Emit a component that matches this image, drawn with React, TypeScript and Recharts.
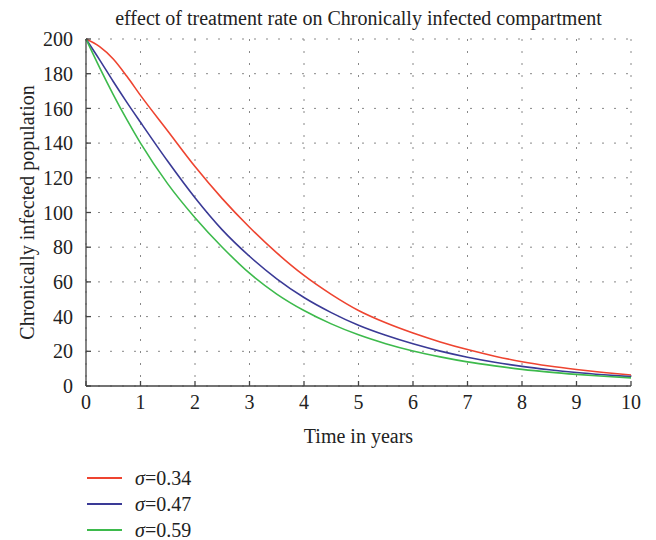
import React from 'react';
import { LineChart, Line, XAxis, YAxis, CartesianGrid, Label } from 'recharts';

const years = [0, 0.25, 0.5, 0.75, 1, 1.5, 2, 2.5, 3, 3.5, 4, 4.5, 5, 5.5, 6, 6.5, 7, 7.5, 8, 8.5, 9, 9.5, 10];
const sigma034 = [200, 195.6, 188.5, 178.5, 167.5, 147, 126.5, 108, 91.5, 76.7, 63.7, 52.8, 43.5, 36.4, 30.5, 25.4, 21, 17.2, 14, 11.5, 9.5, 7.8, 6.3];
const sigma047 = [200, 188, 175.5, 163.5, 152, 129.5, 108.5, 90, 74.8, 61.8, 51, 42.3, 35, 29.2, 24.3, 20.1, 16.6, 13.7, 11.3, 9.4, 7.8, 6.5, 5.4];
const sigma059 = [200, 183.5, 168, 153.5, 140, 116.5, 97, 80, 65, 53, 43.5, 35.8, 29.5, 24.4, 20.2, 16.8, 13.9, 11.6, 9.6, 8, 6.7, 5.6, 4.7];

const seriesNames = ['=0.34', '=0.47', '=0.59'];
const seriesColors = ['#ee4430', '#3a3a96', '#3dba4c'];
const xTicks = [0, 1, 2, 3, 4, 5, 6, 7, 8, 9, 10];
const yTicks = [0, 20, 40, 60, 80, 100, 120, 140, 160, 180, 200];
const title = 'effect of treatment rate on Chronically infected compartment';
const xLabel = 'Time in years';
const yLabel = 'Chronically infected population';

const data = years.map((t, i) => ({ t, s1: sigma034[i], s2: sigma047[i], s3: sigma059[i] }));
const keys = ['s1', 's2', 's3'];

const FONT = '"Liberation Serif", "Times New Roman", serif';
const tickStyle = { fontFamily: FONT, fontSize: 20, fill: '#222' };
const axisColor = '#444';

export default function App() {
  return (
    <div style={{ position: 'absolute', left: 0, top: 0, width: 656, height: 540, background: '#fff', fontFamily: FONT }}>
      <div style={{ position: 'absolute', left: 86, top: 7, width: 545, textAlign: 'center', fontSize: 20, lineHeight: '22px', color: '#222', whiteSpace: 'nowrap' }}>
        {title}
      </div>
      <LineChart width={656} height={540} data={data} margin={{ top: 39, right: 25, bottom: 94, left: 10 }}>
        <CartesianGrid stroke="#888" strokeDasharray="2 10" />
        <XAxis
          dataKey="t"
          type="number"
          domain={[0, 10]}
          ticks={xTicks}
          height={60}
          tickSize={-5}
          tickMargin={14}
          tick={tickStyle}
          stroke={axisColor}
          strokeWidth={1.3}
        >
          <Label value={xLabel} position="insideBottom" offset={3} style={{ fontFamily: FONT, fontSize: 20, fill: '#222' }} />
        </XAxis>
        <XAxis
          xAxisId="top"
          orientation="top"
          dataKey="t"
          type="number"
          domain={[0, 10]}
          ticks={xTicks}
          height={0}
          tickSize={-5}
          tick={() => <g />}
          stroke={axisColor}
          strokeWidth={1.3}
        />
        <YAxis
          type="number"
          domain={[0, 200]}
          ticks={yTicks}
          width={76}
          tickSize={-5}
          tickMargin={18}
          tick={tickStyle}
          stroke={axisColor}
          strokeWidth={1.3}
        >
          <Label value={yLabel} angle={-90} position="insideLeft" offset={17} style={{ fontFamily: FONT, fontSize: 20, fill: '#222', textAnchor: 'middle' }} />
        </YAxis>
        <YAxis
          yAxisId="right"
          orientation="right"
          type="number"
          domain={[0, 200]}
          ticks={yTicks}
          width={0}
          tickSize={-5}
          tick={() => <g />}
          stroke={axisColor}
          strokeWidth={1.3}
        />
        {keys.map((k, i) => (
          <Line key={k} dataKey={k} type="monotone" stroke={seriesColors[i]} strokeWidth={1.6} dot={false} isAnimationActive={false} />
        ))}
      </LineChart>
      <div style={{ position: 'absolute', left: 87, top: 465 }}>
        {seriesNames.map((n, i) => (
          <div key={n} style={{ display: 'flex', alignItems: 'center', height: 26 }}>
            <div style={{ width: 35, height: 2, background: seriesColors[i] }} />
            <span style={{ marginLeft: 13, fontSize: 20, lineHeight: '20px', color: '#222' }}>
              <i>σ</i>{n}
            </span>
          </div>
        ))}
      </div>
    </div>
  );
}
